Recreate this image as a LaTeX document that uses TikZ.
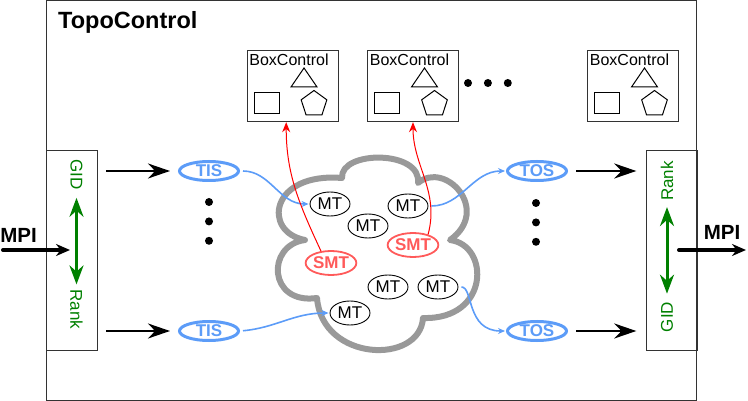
\documentclass[tikz,border=0pt]{standalone}
\usepackage{fontspec}
\setmainfont{Liberation Sans}
\usetikzlibrary{positioning, calc, arrows.meta, shapes.geometric}
\definecolor{portblue}{HTML}{5C9CF8}
\definecolor{smtred}{HTML}{FF5A5A}
\definecolor{cloudgray}{HTML}{999999}
\tikzset{
  > = {Stealth[length = 7pt, width = 6pt]},
  outerbox/.style = {draw = black!80, inner sep = 0pt},
  ctrlbox/.style = {draw = black!80, inner sep = 0pt, minimum width = 91pt, minimum height = 71pt},
  rankbox/.style = {draw = black!80, inner sep = 0pt, minimum width = 51pt, minimum height = 200pt},
  pentagon/.style = {draw, line width = 1pt, regular polygon, regular polygon sides = 5, inner sep = 0pt, minimum size = 27pt},
  bullet/.style = {circle, fill, inner sep = 0pt, minimum size = 8pt},
  idlabel/.style = {text = green!50!black, inner sep = 0pt},
  mt/.style = {draw, line width = 0.9pt, ellipse, fill = white, inner sep = 0pt, minimum width = 40pt, minimum height = 24pt},
  smt/.style = {mt, draw = smtred, text = smtred, line width = 1.8pt,
    minimum width = 49pt, font = \fontsize{17}{20}\selectfont\bfseries},
  port/.style = {draw = portblue, text = portblue, ellipse, fill = white, line width = 3pt,
    inner sep = 0pt, minimum width = 59pt, minimum height = 19pt, font = \fontsize{17}{20}\selectfont\bfseries},
  cloud/.style = {draw = cloudgray, line width = 6pt, line join = round},
  feed/.style = {->, line width = 2pt, > = {Stealth[length = 22pt, width = 15pt]}},
  mpi/.style = {->, line width = 4pt, line cap = round, > = {Stealth[length = 14pt, width = 12pt]}},
  mapping/.style = {<->, green!50!black, line width = 3pt, > = {Stealth[length = 19pt, width = 14pt]}},
  wire/.style = {->, portblue, line width = 1.6pt},
  notify/.style = {->, red, line width = 1pt, > = {Stealth[length = 10pt, width = 8pt]}}
}
\begin{document}
\begin{tikzpicture}[x = 1pt, y = -1pt, font = \fontsize{17}{20}\selectfont]
\useasboundingbox (0,0) rectangle (748,401);

%% Frame
\node [outerbox, minimum width = 650pt, minimum height = 399.5pt] (topo) at (371.5,200.25) {};
\node [anchor = base west, inner sep = 0pt, font = \fontsize{23.5}{28}\selectfont\bfseries] (topotitle) at (58,29) {TopoControl};

%% Box controls
\node [ctrlbox] (bc1) at (292.5,85.5) {};
\node [ctrlbox] (bc2) at (413,85.5) {};
\node [ctrlbox] (bc3) at (633,85.5) {};
\node [inner sep = 0pt, font = \fontsize{16}{19}\selectfont] (bct1) at ($(bc1) + (-3.5,-25.5)$) {BoxControl};
\node [inner sep = 0pt, font = \fontsize{16}{19}\selectfont] (bct2) at ($(bc2) + (-3.5,-25.5)$) {BoxControl};
\node [inner sep = 0pt, font = \fontsize{16}{19}\selectfont] (bct3) at ($(bc3) + (-3.5,-25.5)$) {BoxControl};
\draw [line width = 1pt] ($(bc1) + (11.5,-17.5)$) -- ++(-13,19) -- ++(26,0) -- cycle;
\draw [line width = 1pt] ($(bc2) + (11.5,-17.5)$) -- ++(-13,19) -- ++(26,0) -- cycle;
\draw [line width = 1pt] ($(bc3) + (11.5,-17.5)$) -- ++(-13,19) -- ++(26,0) -- cycle;
\draw [line width = 1pt] ($(bc1) + (-38.5,7.5)$) rectangle ++(25,21);
\draw [line width = 1pt] ($(bc2) + (-38.5,7.5)$) rectangle ++(25,21);
\draw [line width = 1pt] ($(bc3) + (-38.5,7.5)$) rectangle ++(25,21);
\node [pentagon] (bcp1) at ($(bc1) + (21.5,18.5)$) {};
\node [pentagon] (bcp2) at ($(bc2) + (21.5,18.5)$) {};
\node [pentagon] (bcp3) at ($(bc3) + (21.5,18.5)$) {};

%% Dots
\node [bullet] (bcdot1) at (468,83) {};
\node [bullet] (bcdot2) [right = 11.5pt of bcdot1] {};
\node [bullet] (bcdot3) [right = 11.5pt of bcdot2] {};
\node [bullet] (tisdot1) at (209,202) {};
\node [bullet] (tisdot2) [below = 11pt of tisdot1] {};
\node [bullet] (tisdot3) [below = 11pt of tisdot2] {};
\node [bullet] (tosdot1) at (536,203) {};
\node [bullet] (tosdot2) [below = 11pt of tosdot1] {};
\node [bullet] (tosdot3) [below = 11pt of tosdot2] {};

%% Rank boxes
\node [rankbox] (lbox) at (71.5,250) {};
\node [rankbox] (rbox) at (672,250) {};
\node [idlabel, rotate = -90] (gidin) at (76.5,174.5) {GID};
\node [idlabel, rotate = -90] (rankin) at (76.5,309.5) {Rank};
\node [idlabel, rotate = 90] (rankout) at (667,181) {Rank};
\node [idlabel, rotate = 90] (gidout) at (667,317) {GID};
\path [mapping] (gidin) edge [shorten < = 8pt, shorten > = 5pt] (rankin)
                (rankout) edge [shorten < = 6pt, shorten > = 8pt] (gidout);

%% MPI
\node [font = \fontsize{20.5}{24}\selectfont\bfseries, inner sep = 0pt] (mpiin) at (18.5,235) {MPI};
\node [font = \fontsize{20.5}{24}\selectfont\bfseries, inner sep = 0pt] (mpiout) at (722,232.5) {MPI};
\coordinate (mpisrc) at (3,250);
\coordinate (mpiinto) at (70,250);
\coordinate (mpifrom) at (679,250);
\coordinate (mpidst) at (746,250);
\path [mpi] (mpisrc) edge (mpiinto)
            (mpifrom) edge (mpidst);

%% Cloud
\draw [cloud] (305,240) .. controls (262,232) and (270,172) .. (342,178)
  .. controls (340,150) and (422,150) .. (418,183)
  .. controls (445,160) and (492,210) .. (450,240)
  .. controls (490,245) and (490,320) .. (423,318)
  .. controls (420,365) and (322,362) .. (317,298)
  .. controls (268,305) and (266,245) .. (305,240) -- cycle;

%% Ports
\node [port] (tis1) at (209,171) {TIS};
\node [port] (tis2) at (209,331) {TIS};
\node [port] (tos1) at (537,171) {TOS};
\node [port] (tos2) at (537,331) {TOS};

%% Threads
\node [mt] (mt1) at (330,204) {MT};
\node [mt] (mt2) at (368,226) {MT};
\node [mt] (mt3) at (408,206) {MT};
\node [mt] (mt4) at (388,287) {MT};
\node [mt] (mt5) at (438,287) {MT};
\node [mt] (mt6) at (350,313) {MT};
\node [smt] (smt1) at (331,263) {SMT};
\node [smt] (smt2) at (413,245) {SMT};

%% Feeds
\path [feed] (lbox.east |- tis1) edge [shorten < = 9pt, shorten > = 8pt] (tis1)
             (lbox.east |- tis2) edge [shorten < = 9pt, shorten > = 8pt] (tis2)
             (tos1) edge [shorten < = 8pt, shorten > = 10pt] (rbox.west |- tos1)
             (tos2) edge [shorten < = 8pt, shorten > = 10pt] (rbox.west |- tos2);

%% Wires
\path [wire] (tis1.east) edge [out = 0, in = 180, shorten < = 3pt, shorten > = 1pt] (mt1.west)
             (tis2.east) edge [out = 5, in = 180, shorten < = 3pt, shorten > = 1pt] (mt6.west)
             (mt3.east) edge [out = 0, in = 180, shorten < = 3pt, shorten > = 1pt] (tos1.west);
\draw [wire, shorten < = 3pt, shorten > = 1pt] (mt5.east) .. controls +(15,0) and +(-40,0) .. (tos2.west);

%% Notifications
\path [notify] (smt1.130) edge [out = 115, in = -90, shorten > = 1pt] (bc1.260)
               (smt2.35) edge [out = 75, in = -90, shorten > = 1pt] (bc2.south);

\end{tikzpicture}
\end{document}
